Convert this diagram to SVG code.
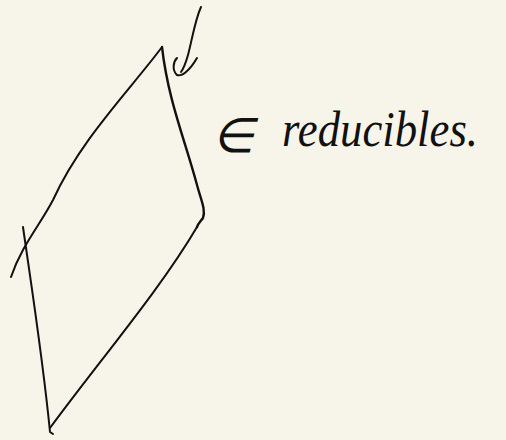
<svg xmlns="http://www.w3.org/2000/svg" width="506" height="440" viewBox="0 0 506 440">
<style>
.ink{fill:none;stroke:#111;stroke-width:2;stroke-linecap:round;stroke-linejoin:round}
.hand{font-family:"Liberation Serif",serif;font-style:italic;fill:#111}
</style>
<rect width="506" height="440" fill="#f7f5ea"/>
<g id="shape">
<path class="ink" d="M162,47 C130,90 80,140 53,200 C40,225 22,245 11,277"/>
<path class="ink" d="M162,47 C168,100 185,140 197,185 C201,200 206,210 203,218 C200,222 198,224 197,227" style="stroke-width:2.4"/>
<path class="ink" d="M197,227 C160,290 100,360 50,428"/>
<path class="ink" d="M23,227 C32,290 43,360 50,432 L53,434"/>
</g>
<g id="arrow">
<path class="ink" d="M201,7 C195,20 192,40 188,55 C186,62 184,68 181,72"/>
<path class="ink" d="M177,58 C173,62 172,70 177,75 C182,77 190,70 197,58"/>
</g>
<g id="label">
<text class="hand" x="212" y="152" font-size="48">∈</text>
<text class="hand" x="282" y="146" font-size="50" textLength="196" lengthAdjust="spacingAndGlyphs">reducibles.</text>
</g>
</svg>
